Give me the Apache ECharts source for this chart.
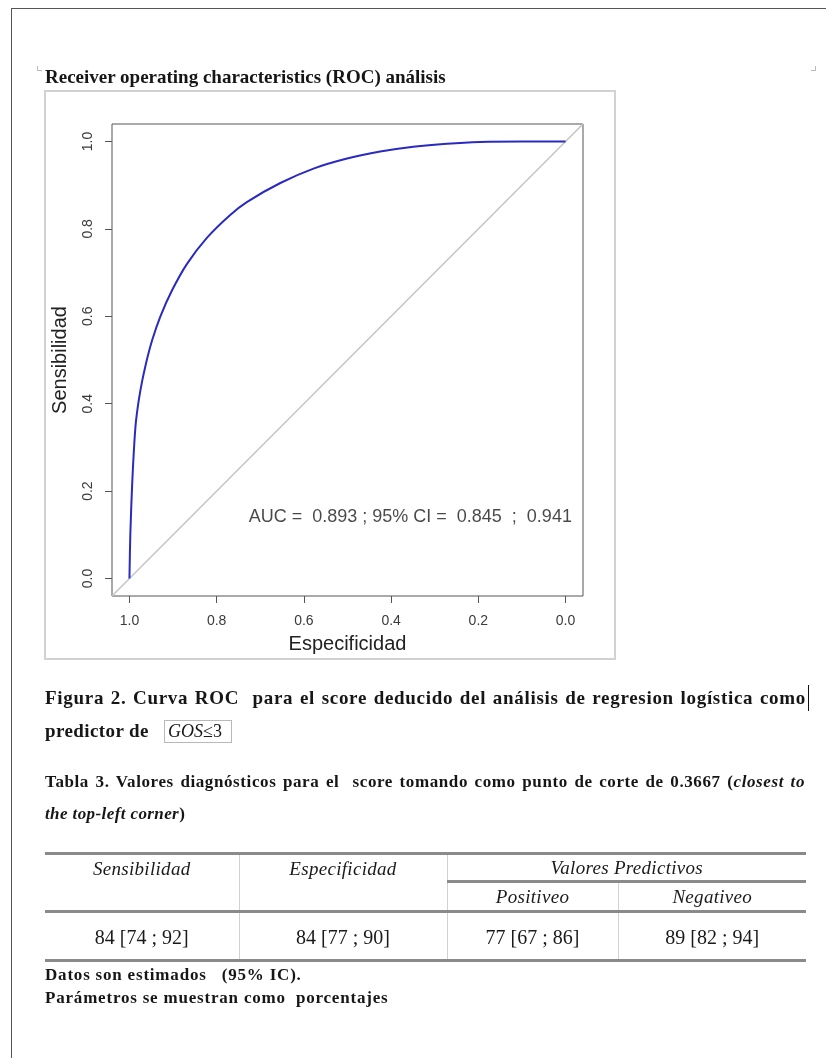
<!DOCTYPE html>
<html>
<head>
<meta charset="utf-8">
<title>Curva ROC</title>
<script src="https://cdn.jsdelivr.net/npm/echarts@6/dist/echarts.min.js"></script>
<style>
body { margin: 0; background: #fff; }
#page { position: relative; width: 826px; height: 1058px; overflow: hidden; font-family: "Liberation Serif", serif; color: #161616; }
#chart { position: absolute; left: 0; top: 0; width: 826px; height: 1058px; }
.t { position: absolute; white-space: nowrap; z-index: 2; }
.b { font-weight: bold; }
.just { text-align: justify; text-align-last: justify; }
#tab { position: absolute; left: 45px; top: 852px; width: 761px; border-collapse: collapse; table-layout: fixed; z-index: 2;
       border-top: 3px solid #8a8a8a; border-bottom: 3px solid #8a8a8a; font-family: "Liberation Serif", serif; color: #1a1a1a; }
#tab th, #tab td { padding: 0; text-align: center; border-left: 1px solid #d2d2d2; border-right: 1px solid #d2d2d2; }
#tab th { font-weight: normal; font-style: italic; font-size: 19px; letter-spacing: 0.3px; }
#tab td { font-size: 20px; }
#tab .first { border-left: none; }
#tab .last { border-right: none; }
#tab .hb { border-bottom: 3px solid #8a8a8a; }
</style>
</head>
<body>
<div id="page">
  <!-- borde de pagina -->
  <div style="position:absolute;left:11px;top:8px;width:900px;height:1100px;border-left:1px solid #555;border-top:1px solid #555;"></div>
  <div style="position:absolute;left:37px;top:66px;width:4px;height:4px;border-left:1px solid #bbb;border-bottom:1px solid #bbb;"></div>
  <div style="position:absolute;left:811px;top:66px;width:4px;height:4px;border-right:1px solid #bbb;border-bottom:1px solid #bbb;"></div>

  <div class="t b" style="left:45px;top:65px;font-size:19px;line-height:24px;">Receiver operating characteristics (ROC) análisis</div>
  <div style="position:absolute;left:44px;top:90px;width:572px;height:570px;box-sizing:border-box;border:2px solid #d2d2d2;"></div>
  <div id="chart"></div>

  <div class="t b just" style="left:45px;top:686px;width:761px;font-size:19px;line-height:24px;letter-spacing:0.7px;">Figura 2. Curva ROC &nbsp;para el score deducido del análisis de regresion logística como</div>
  <div style="position:absolute;left:808px;top:685px;width:1px;height:26px;background:#111;"></div>
  <div class="t b" style="left:45px;top:719px;font-size:19px;line-height:24px;letter-spacing:0.4px;">predictor de</div>
  <div class="t" style="left:164px;top:720px;width:68px;height:23px;box-sizing:border-box;border:1px solid #b8b8b8;font-size:18px;line-height:21px;padding-left:3px;"><i>GOS</i>≤3</div>

  <div class="t b just" style="left:45px;top:771px;width:760px;font-size:17px;line-height:22px;letter-spacing:0.6px;">Tabla 3. Valores diagnósticos para el &nbsp;score tomando como punto de corte de 0.3667 (<i>closest to</i></div>
  <div class="t b" style="left:45px;top:803px;font-size:17px;line-height:22px;letter-spacing:0.4px;"><i>the top-left corner</i>)</div>

  <table id="tab"></table>

  <div class="t b" style="left:45px;top:964px;font-size:17px;line-height:22px;letter-spacing:0.8px;">Datos son estimados &nbsp; (95% IC).</div>
  <div class="t b" style="left:45px;top:987px;font-size:17px;line-height:22px;letter-spacing:0.8px;">Parámetros se muestran como &nbsp;porcentajes</div>
</div>

<script type="text/javascript">
// curva ROC (especificidad, sensibilidad)
var especificidad = [1.0, 0.998, 0.994, 0.990, 0.985, 0.975, 0.963, 0.948, 0.929, 0.902, 0.868,
                     0.822, 0.769, 0.730, 0.654, 0.578, 0.501, 0.425, 0.349, 0.272, 0.196, 0.100, 0.0];
var sensibilidad  = [0.0, 0.100, 0.210, 0.290, 0.360, 0.430, 0.488, 0.545, 0.600, 0.660, 0.720,
                     0.780, 0.832, 0.862, 0.905, 0.938, 0.961, 0.977, 0.988, 0.995, 0.999, 1.0, 1.0];
// linea de referencia (diagonal)
var diagEsp  = [1.04, -0.04];
var diagSens = [-0.04, 1.04];
var ticks = [0, 0.2, 0.4, 0.6, 0.8, 1.0];
var aucTexto = 'AUC =  0.893 ; 95% CI =  0.845  ;  0.941';

// tabla 3
var cabecera = ['Sensibilidad', 'Especificidad', 'Valores Predictivos'];
var subCabecera = ['Positiveo', 'Negativeo'];
var valores = ['84 [74 ; 92]', '84 [77 ; 90]', '77 [67 ; 86]', '89 [82 ; 94]'];

var tab = document.getElementById('tab');
tab.innerHTML =
    '<colgroup><col style="width:194px"><col style="width:208px"><col style="width:171px"><col style="width:188px"></colgroup>' +
    '<tr style="height:28px">' +
      '<th rowspan="2" class="first hb" style="vertical-align:top;padding-top:3px">' + cabecera[0] + '</th>' +
      '<th rowspan="2" class="hb" style="vertical-align:top;padding-top:3px">' + cabecera[1] + '</th>' +
      '<th colspan="2" class="last hb">' + cabecera[2] + '</th></tr>' +
    '<tr style="height:30px"><th class="hb">' + subCabecera[0] + '</th><th class="last hb">' + subCabecera[1] + '</th></tr>' +
    '<tr style="height:49px"><td class="first" style="padding-top:3px">' + valores[0] + '</td><td style="padding-top:3px">' + valores[1] +
      '</td><td style="padding-top:3px">' + valores[2] + '</td><td class="last" style="padding-top:3px">' + valores[3] + '</td></tr>';

var curva = especificidad.map(function (e, i) { return [e, sensibilidad[i]]; });
var diagonal = diagEsp.map(function (e, i) { return [e, diagSens[i]]; });

var myChart = echarts.init(document.getElementById('chart'));
var option = {
    animation: false,
    textStyle: { fontFamily: 'Liberation Sans' },
    grid: {
        left: 112, top: 124, width: 471, height: 472,
        show: true, borderColor: '#555', borderWidth: 1
    },
    xAxis: {
        type: 'value', inverse: true, min: -0.04, max: 1.04,
        name: 'Especificidad', nameLocation: 'middle', nameGap: 38,
        nameTextStyle: { fontSize: 20, color: '#222' },
        axisLine: { show: false, onZero: false },
        splitLine: { show: false },
        axisTick: { show: true, length: 7, lineStyle: { color: '#555' }, customValues: ticks },
        axisLabel: { customValues: ticks, fontSize: 14, color: '#3a3a3a', margin: 18,
                     formatter: function (v) { return v.toFixed(1); } }
    },
    yAxis: {
        type: 'value', min: -0.04, max: 1.04,
        name: 'Sensibilidad', nameLocation: 'middle', nameGap: 42,
        nameTextStyle: { fontSize: 20, color: '#222' },
        axisLine: { show: false, onZero: false },
        splitLine: { show: false },
        axisTick: { show: true, length: 7, lineStyle: { color: '#555' }, customValues: ticks },
        axisLabel: { customValues: ticks, fontSize: 14, color: '#3a3a3a', margin: 17, rotate: 90,
                     formatter: function (v) { return v.toFixed(1); } }
    },
    series: [
        {
            type: 'line', data: diagonal, symbol: 'none', silent: true,
            lineStyle: { color: '#c4c4c4', width: 1.5 }
        },
        {
            type: 'line', data: curva, symbol: 'none', smooth: 0.3, silent: true,
            lineStyle: { color: '#2a2ac0', width: 2 }
        },
        {
            type: 'scatter', data: [[0.356, 0.140]], symbolSize: 1, silent: true,
            itemStyle: { color: 'transparent' },
            label: { show: true, position: 'inside', formatter: aucTexto, fontSize: 18, color: '#1a1a1a' }
        }
    ]
};
myChart.setOption(option);
</script>
</body>
</html>
